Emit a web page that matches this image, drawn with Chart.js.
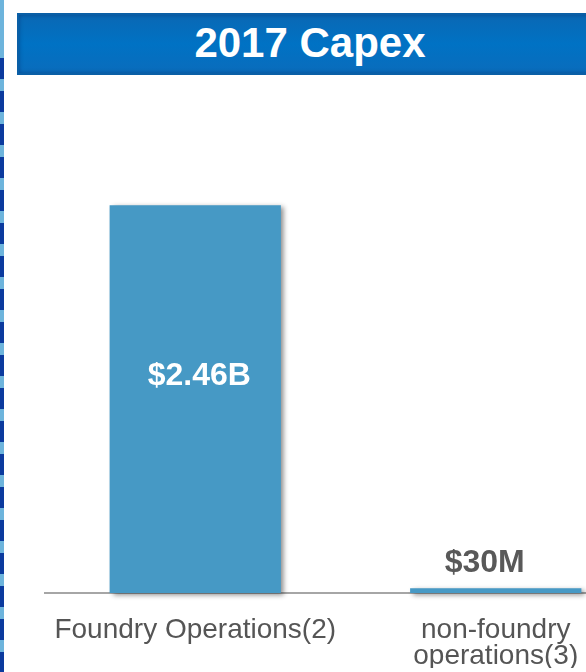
<!DOCTYPE html>
<html>
<head>
<meta charset="utf-8">
<script src="https://cdn.jsdelivr.net/npm/chart.js@4/dist/chart.umd.min.js"></script>
<style>
  html, body { margin: 0; padding: 0; width: 586px; height: 672px; overflow: hidden; background: #fff; }
  #edge {
    position: absolute; left: 0; top: 0; width: 4px; height: 672px;
    background:
      repeating-linear-gradient(to bottom, #0b3a9e 0px, #0b3a9e 21px, #6db4dc 21px, #6db4dc 33px) 0 58px / 4px 614px no-repeat,
      #6db4dc;
  }
  #banner {
    position: absolute; left: 17px; top: 13px; width: 586px; height: 62px;
    box-sizing: border-box;
    background: linear-gradient(to bottom, #0a68b4 0%, #0072c4 50%, #0a6cbc 100%);
    border: 2px solid #0a5fa6;
    box-shadow: inset 0 0 4px rgba(0, 40, 100, 0.5);
    color: #fff; font: bold 42px "Liberation Sans", Arial, sans-serif;
    text-align: center; line-height: 56px;
  }
  #wrap { position: absolute; left: 0; top: 0; width: 650px; height: 672px; }
</style>
</head>
<body>
<div id="edge"></div>
<div id="banner">2017 Capex</div>
<div id="wrap"><canvas id="c"></canvas></div>
<script>
// Capex by segment, millions of US dollars
const categories = ['Foundry Operations(2)', ['non-foundry', 'operations(3)']];
const capexMillions = [2460, 30];
const valueLabels = ['$2.46B', '$30M'];

const FONT = '"Liberation Sans", Arial, sans-serif';

// Soft drop shadow behind the bars
const barShadow = {
  id: 'barShadow',
  beforeDatasetsDraw(chart) {
    const ctx = chart.ctx;
    ctx.save();
    ctx.shadowColor = 'rgba(0,0,0,0.45)';
    ctx.shadowOffsetX = 3;
    ctx.shadowOffsetY = 2;
    ctx.shadowBlur = 5;
  },
  afterDatasetsDraw(chart) {
    chart.ctx.restore();
  }
};

// Value captions: inside tall bars, above short ones
const valueCaptions = {
  id: 'valueCaptions',
  afterDatasetsDraw(chart) {
    const ctx = chart.ctx;
    const meta = chart.getDatasetMeta(0);
    ctx.save();
    ctx.font = 'bold 32px ' + FONT;
    ctx.textAlign = 'center';
    meta.data.forEach((bar, i) => {
      const h = bar.base - bar.y;
      if (h > 60) {
        ctx.fillStyle = '#ffffff';
        ctx.textBaseline = 'middle';
        ctx.fillText(valueLabels[i], bar.x + 4, bar.y + h * 0.44);
      } else {
        ctx.fillStyle = '#595959';
        ctx.textBaseline = 'alphabetic';
        ctx.fillText(valueLabels[i], bar.x - 11, bar.y - 16);
      }
    });
    ctx.restore();
  }
};

new Chart(document.getElementById('c'), {
  type: 'bar',
  data: {
    labels: categories,
    datasets: [{
      data: capexMillions,
      backgroundColor: '#4699c5',
      borderWidth: 0,
      categoryPercentage: 0.57,
      barPercentage: 1.0,
      clip: false
    }]
  },
  options: {
    responsive: true,
    maintainAspectRatio: false,
    animation: false,
    events: [],
    layout: { padding: { left: 45, right: 4, top: 120, bottom: 4 } },
    plugins: { legend: { display: false }, tooltip: { enabled: false } },
    scales: {
      x: {
        grid: { display: false, drawTicks: false },
        border: { display: true, color: '#a6a6a6', width: 2 },
        ticks: {
          color: '#555555',
          font: { family: FONT, size: 28, lineHeight: 0.93 },
          padding: 24,
          maxRotation: 0,
          autoSkip: false
        },
        afterFit(scale) { scale.height = 75; }
      },
      y: {
        display: false,
        min: 0,
        max: 3000
      }
    }
  },
  plugins: [barShadow, valueCaptions]
});
</script>
</body>
</html>
